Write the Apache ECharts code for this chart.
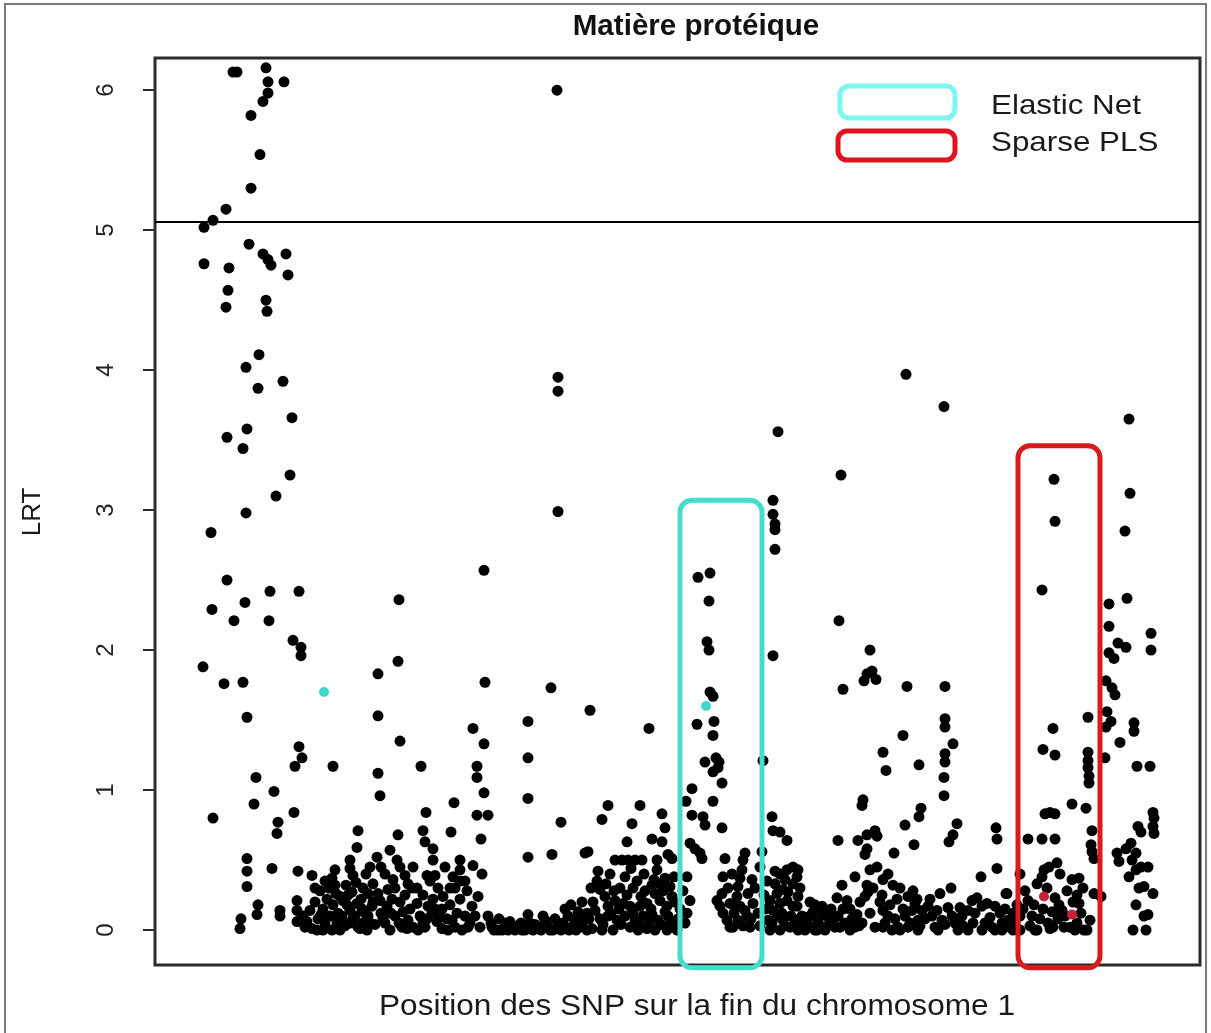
<!DOCTYPE html>
<html>
<head>
<meta charset="utf-8">
<title>Matière protéique</title>
<script src="https://cdn.jsdelivr.net/npm/echarts@6/dist/echarts.min.js"></script>
<style>
  html, body { margin: 0; padding: 0; background: #ffffff; }
  #chart { width: 1211px; height: 1033px; }
</style>
</head>
<body>
<div id="chart"></div>
<script>
// SNP rank along the end of chromosome 1 (arbitrary position units) and LRT value
const segA = [
  [78,6.13],[82,6.13],[111,6.16],[113,6.06],[129,6.06],[113,5.98],[108,5.92],[96,5.82],[105,5.54],[96,5.30],
  [71,5.15],[58,5.07],[49,5.02],[94,4.90],[108,4.83],[113,4.79],[116,4.75],[131,4.83],[49,4.76],[74,4.73],
  [133,4.68],[73,4.57],[71,4.45],[111,4.50],[112,4.42],[104,4.11],[91,4.02],[103,3.87],[128,3.92],[137,3.66],
  [92,3.58],[72,3.52],[88,3.44],[135,3.25],[121,3.10],[91,2.98],[56,2.84],[72,2.50],[115,2.42],[144,2.42],
  [57,2.29],[90,2.34],[79,2.21],[114,2.21],[138,2.07],[146,2.02],[146,1.96],[48,1.88],[69,1.76],[88,1.77],
  [92,1.52],[144,1.31],[147,1.23],[140,1.17],[101,1.09],[119,0.99],[99,0.90],[58,0.80],[139,0.84],[123,0.77],
  [122,0.69],[178,1.17]
];
const segALow = [
  [92,0.51],[92,0.42],[92,0.31],[117,0.44],[86,0.08],[85,0.01],[103,0.18],[102,0.11],[125,0.14],[125,0.10],
  [142,0.21],[142,0.14],[142,0.06],[148,0.10],[150,0.02],[143,0.42],[157,0.39],[157,0.01],[162,0.0],[168,0.15],
  [168,0.0],[175,0.10],[177,0.0],[182,0.05],[187,0.10],[188,0.21],[195,0.14],[200,0.10],[202,0.19],[205,0.01],
  [210,0.12],[208,0.05],[185,0.0],[195,0.05],[197,0.27],[208,0.30],[177,0.37],[180,0.43],[180,0.32],[195,0.50],
  [195,0.44],[198,0.39],[203,0.71],[202,0.59],
  [152,0.06],[155,0.14],[160,0.20],[163,0.08],[165,0.28],[170,0.05],[172,0.22],[178,0.18],[181,0.26],[183,0.12],
  [190,0.03],[192,0.18],[198,0.08],[203,0.02],[206,0.22],[191,0.32],[185,0.24],[170,0.35],[160,0.30],
  [166,0.11],[174,0.30],[186,0.07],[193,0.25],[201,0.34],[207,0.15]
];
const segB = [
  [223,1.12],[266,1.17],[322,1.17],[322,1.09],[225,0.96],[329,0.98],[299,0.91],[271,0.84],[322,0.82],[333,0.82],
  [243,0.68],[268,0.71],[270,0.63],[278,0.58],[278,0.50],[296,0.70],[326,0.65],[272,0.39],[280,0.39],[305,0.50],
  [305,0.43],[305,0.35],[300,0.30],[318,0.46],[223,1.53],[223,1.83],[243,1.92],[244,2.36],[245,1.35],[318,1.44],
  [329,1.33],[330,1.77],[329,2.57]
];
const segBLow = [
  [222,0.52],[235,0.57],[215,0.45],[242,0.50],[245,0.45],[250,0.39],[253,0.33],[257,0.30],[230,0.40],[238,0.36],
  [218,0.33],[213,0.26],[223,0.26],[233,0.29],[225,0.21],[232,0.17],[217,0.17],[213,0.10],[212,0.0],[235,0.0],
  [248,0.13],[253,0.07],[258,0.02],[262,0.19],[262,0.30],[273,0.17],[277,0.12],[282,0.06],[287,0.01],[288,0.24],
  [295,0.18],[287,0.15],[297,0.07],[323,0.24],[317,0.17],[310,0.10],[313,0.02],[307,0.0],[300,0.02],[293,0.0],
  [263,0.0],[268,0.05],[244,0.05],[228,0.08],[240,0.10],[220,0.04],
  [215,0.05],[218,0.20],[226,0.12],[230,0.05],[237,0.22],[240,0.30],[245,0.20],[247,0.02],[250,0.25],[255,0.15],
  [258,0.45],[265,0.10],[268,0.25],[270,0.02],[275,0.35],[278,0.22],[283,0.30],[285,0.10],[290,0.45],[292,0.08],
  [295,0.30],[302,0.12],[305,0.22],[310,0.35],[315,0.05],[320,0.10],[325,0.02],[327,0.40],[226,0.45],[211,0.40],
  [236,0.12],[252,0.01],[272,0.08],[280,0.15],[298,0.38],[312,0.28]
];
const segC = [
  [333,0.10],[337,0.02],[343,0.0],[350,0.05],[357,0.02],[367,0.0],[373,0.11],[375,0.05],[383,0.02],[390,0.07],
  [395,0.0],[402,0.02],[410,0.15],[413,0.10],[418,0.03],[425,0.02],[428,0.10],[432,0.0],[339,0.0],[347,0.0],
  [353,0.0],[360,0.0],[363,0.03],[370,0.0],[378,0.0],[386,0.0],[398,0.0],[406,0.0],[414,0.0],[421,0.0],
  [373,0.52],[397,0.54],[430,0.55],[406,0.77],[373,0.94],[373,1.49],[373,1.23],[396,1.73],[403,2.99],[402,6.00],
  [403,3.95],[403,3.85],[435,1.57],
  [336,0.05],[344,0.08],[380,0.04],[388,0.10],[392,0.03],[400,0.08],[408,0.05],[416,0.18],[420,0.08],[427,0.20],
  [434,0.08],[355,0.06],[366,0.05],[423,0.13]
];
const segD = [
  [453,0.89],[485,0.89],[447,0.79],[477,0.76],[507,0.83],[510,0.73],[433,0.56],[472,0.63],[497,0.65],[507,0.63],
  [460,0.50],[467,0.50],[473,0.50],[480,0.50],[487,0.50],[513,0.54],[517,0.51],[502,0.43],[497,0.32],[510,0.37],
  [515,0.31],[445,0.29],[450,0.24],[460,0.21],[468,0.19],[475,0.17],[485,0.17],[492,0.19],[500,0.26],[505,0.21],
  [512,0.17],[517,0.24],[432,0.12],[440,0.14],[445,0.08],[453,0.10],[462,0.07],[470,0.10],[480,0.07],[488,0.10],
  [497,0.11],[503,0.07],[513,0.10],[427,0.05],[437,0.01],[458,0.0],[475,0.02],[492,0.01],[500,0.0],[512,0.0],
  [518,0.05],[453,0.17],[465,0.30],[502,0.50],[494,1.44],[447,0.0],[483,0.0],[522,0.0],[438,0.20],[455,0.40],
  [482,0.35],[490,0.28],[525,0.15],
  [436,0.30],[442,0.35],[448,0.04],[451,0.33],[456,0.12],[459,0.28],[464,0.15],[466,0.04],[472,0.25],[478,0.12],
  [478,0.30],[484,0.04],[486,0.24],[494,0.05],[496,0.15],[499,0.36],[506,0.04],[508,0.28],[510,0.13],[515,0.04],
  [520,0.20],[523,0.08],[528,0.28],[530,0.05],
  [443,0.42],[470,0.38],[476,0.44],[489,0.40],[505,0.33],[519,0.38]
];
const segCyanWindow = [
  [555,2.55],[543,2.52],[554,2.35],[552,2.06],[554,2.00],[555,1.70],[558,1.67],[542,1.47],[559,1.49],[558,1.39],
  [550,1.20],[561,1.23],[564,1.20],[563,1.16],[558,1.13],[567,1.05],[537,1.01],[531,0.92],[558,0.92],[537,0.82],
  [548,0.81],[550,0.75],[567,0.73],[535,0.62],[540,0.58],[545,0.55],[547,0.51],[570,0.51],[532,0.38],[568,0.38],
  [535,0.21],[532,0.12],[562,0.21],[565,0.17],[568,0.12],[572,0.07],[567,0.26],[575,0.19],[578,0.02]
];
const segE = [
  [588,0.50],[587,0.43],[585,0.37],[583,0.31],[582,0.24],[585,0.17],[579,0.12],[583,0.07],[575,0.02],[592,0.10],
  [595,0.02],[598,0.19],[593,0.26],[590,0.55],[605,0.45],[607,0.56],[617,0.81],[618,0.71],[625,0.70],[632,0.64],
  [620,0.33],[625,0.40],[632,0.43],[638,0.45],[615,0.21],[618,0.14],[625,0.19],[632,0.21],[638,0.17],[613,0.07],
  [622,0.10],[628,0.07],[635,0.02],[642,0.07],[615,0.0],[625,0.0],[643,0.0],[638,0.33],[628,0.29],[622,0.26],
  [643,0.43],[642,0.38],[643,0.24],[642,0.17],[647,0.10],[640,0.05],[650,0.0],[660,0.0],[670,0.0],[680,0.02],
  [667,0.17],[672,0.10],[663,0.07],[655,0.10],[657,0.02],[677,0.05],[683,0.10],[682,0.23],[692,0.21],[695,0.15],
  [687,0.32],[700,0.38],[683,0.64],[702,0.11],[700,0.02],[695,0.0],
  [608,1.21],[623,3.56],[618,3.07],[618,2.97],[620,2.90],[620,2.86],[620,2.72],[618,1.96],[686,3.25],[684,2.21],
  [688,1.72],
  [573,0.30],[577,0.40],[580,0.17],[588,0.03],[590,0.14],[596,0.08],[600,0.30],[603,0.12],[605,0.03],[610,0.15],
  [612,0.35],[617,0.05],[620,0.42],[627,0.12],[630,0.03],[633,0.27],[636,0.10],[645,0.30],[648,0.02],
  [652,0.05],[655,0.20],[658,0.13],[662,0.0],[665,0.03],[668,0.12],[674,0.04],[676,0.15],[680,0.09],[685,0.02],
  [688,0.15],[690,0.05],[697,0.08],[704,0.03],
  [597,0.36],[609,0.25],[630,0.36],[660,0.18]
];
const segF = [
  [712,1.83],[717,1.85],[721,1.79],[709,1.78],[715,2.00],[751,3.97],[789,3.74],[752,1.74],[790,1.74],[790,1.51],
  [790,1.45],[798,1.33],[748,1.39],[790,1.26],[790,1.20],[728,1.27],[764,1.18],[731,1.14],[789,1.09],[789,0.96],
  [708,0.93],[707,0.89],[766,0.87],[764,0.81],[750,0.75],[802,0.76],[798,0.68],[794,0.63],[703,0.64],[712,0.68],
  [720,0.71],[722,0.67],[712,0.58],[710,0.54],[739,0.55],[759,0.61],[715,0.43],[712,0.32],[713,0.27],[728,0.36],
  [738,0.32],[710,0.24],[725,0.20],[728,0.14],[733,0.10],[728,0.02],[737,0.0],[753,0.24],[760,0.19],[757,0.14],
  [750,0.10],[743,0.02],[753,0.02],[763,0.07],[767,0.14],[773,0.17],[777,0.10],[780,0.02],[787,0.07],[783,0.0],
  [763,0.0],[796,0.30],[800,0.05],[807,0.10],[803,0.0],[745,0.30],[705,0.20],
  [707,0.05],[715,0.12],[718,0.30],[720,0.02],[722,0.45],[727,0.25],[730,0.05],[733,0.40],[735,0.18],[740,0.08],
  [742,0.22],[745,0.0],[748,0.15],[755,0.05],[758,0.28],[762,0.22],[765,0.03],[770,0.08],[775,0.22],[782,0.14],
  [785,0.26],[790,0.04],[793,0.16],[797,0.10],[805,0.16]
];
const segG = [
  [813,0.14],[817,0.21],[822,0.23],[827,0.17],[832,0.19],[840,0.17],[845,0.12],[847,0.05],[853,0.07],[858,0.12],
  [813,0.0],[827,0.0],[840,0.0],[826,0.38],[841,0.73],[842,0.65],[842,0.44],[852,0.26],
  [808,0.03],[818,0.05],[820,0.12],[830,0.05],[835,0.09],[837,0.02],[850,0.15],[855,0.02],[860,0.05],[862,0.18]
];
const segRedWindow = [
  [865,0.10],[852,0.05],[847,0.0],[858,0.0],[865,0.0],[875,0.03],[882,0.0],[895,0.01],[909,0.02],[915,0.02],
  [929,0.0],[922,0.05],[873,0.21],[879,0.18],[900,0.23],[904,0.18],[907,0.14],[897,0.13],[935,0.07],[865,0.40],
  [889,0.43],[894,0.45],[902,0.48],[905,0.40],[887,0.38],[882,0.33],[892,0.30],[917,0.36],[924,0.37],[922,0.25],
  [924,0.19],[939,0.26],[946,0.24],[851,0.26],[890,0.83],[895,0.84],[900,0.83],[917,0.90],[931,0.87],[873,0.65],
  [887,0.65],[900,0.65],[937,0.71],[936,0.61],[937,0.56],[939,0.51],[933,1.27],[933,1.21],[933,1.16],[934,1.10],
  [934,1.05],[933,1.52],[888,1.29],[900,1.25],[898,1.44],[887,2.43],[900,2.92],[899,3.22],[950,1.23],
  [868,0.15],[870,0.28],[877,0.10],[880,0.0],[885,0.08],[888,0.15],[893,0.05],[898,0.02],[903,0.08],[910,0.10],
  [912,0.28],[918,0.20],[920,0.0],[926,0.12],[928,0.30],[932,0.0]
];
const segH = [
  [975,3.12],[974,3.65],[970,2.85],[972,2.37],[954,2.33],[954,2.17],[963,2.05],[971,2.02],[996,2.12],[996,2.00],
  [954,1.98],[959,1.94],[951,1.78],[957,1.73],[960,1.68],[952,1.56],[956,1.49],[951,1.45],[979,1.48],[979,1.42],
  [965,1.34],[982,1.17],[995,1.17],[998,0.84],[999,0.80],[998,0.74],[999,0.69],[983,0.74],[986,0.70],[962,0.55],
  [964,0.49],[971,0.58],[976,0.62],[981,0.55],[977,0.50],[986,0.45],[981,0.43],[993,0.45],[974,0.38],[984,0.30],
  [989,0.31],[998,0.26],[981,0.18],[989,0.10],[993,0.11],[978,0.0],[991,0.0]
];

// SNPs retained by each selection method
const elasticNetSnps = [[169,1.70],[551,1.60]];
const sparsePlsSnps = [[889,0.24],[917,0.11]];

const lrtTicks = [0, 1, 2, 3, 4, 5, 6];
const threshold = 5.06;

// Windows highlighted by each method: position range and LRT range
const selectionWindows = [
  { name: 'Elastic Net', color: '#46dccd', pos: [525, 607], lrt: [-0.27, 3.07] },
  { name: 'Sparse PLS',  color: '#d81b1b', pos: [863, 945], lrt: [-0.27, 3.46] }
];

const allSnps = [].concat(segA, segALow, segB, segBLow, segC, segD, segCyanWindow, segE, segF, segG, segRedWindow, segH);

const chart = echarts.init(document.getElementById('chart'), null, { renderer: 'canvas' });
const font = 'Liberation Sans, Arial, sans-serif';

chart.setOption({
  animation: false,
  grid: { left: 155, top: 58, width: 1045, height: 907, show: true, borderColor: '#2b2b2b', borderWidth: 3 },
  xAxis: {
    type: 'value', min: 0, max: 1045,
    axisLine: { show: false }, axisTick: { show: false }, axisLabel: { show: false }, splitLine: { show: false }
  },
  yAxis: {
    type: 'value', min: -0.25, max: 6.23,
    axisLine: { show: false }, splitLine: { show: false },
    axisTick: { show: true, inside: false, length: 12, customValues: lrtTicks, lineStyle: { color: '#2b2b2b', width: 2 } },
    axisLabel: { show: true, rotate: 90, margin: 37, fontSize: 24, color: '#222', fontFamily: font, customValues: lrtTicks }
  },
  series: [
    {
      type: 'scatter', data: allSnps, symbolSize: 11, itemStyle: { color: '#000', opacity: 1 },
      markLine: {
        silent: true, symbol: 'none', label: { show: false },
        lineStyle: { color: '#000', width: 2, type: 'solid', opacity: 1 },
        data: [{ yAxis: threshold }]
      }
    },
    { type: 'scatter', data: elasticNetSnps, symbolSize: 10, itemStyle: { color: '#3fd9c9', opacity: 1 } },
    { type: 'scatter', data: sparsePlsSnps, symbolSize: 10, itemStyle: { color: '#c8203a', opacity: 1 } }
  ]
});

// Highlight windows, legend, titles and outer frame
const graphics = [];
selectionWindows.forEach(w => {
  const p0 = chart.convertToPixel({ gridIndex: 0 }, [w.pos[0], w.lrt[1]]);
  const p1 = chart.convertToPixel({ gridIndex: 0 }, [w.pos[1], w.lrt[0]]);
  graphics.push({
    type: 'rect', z: 50,
    shape: { x: p0[0], y: p0[1], width: p1[0] - p0[0], height: p1[1] - p0[1], r: 12 },
    style: { fill: 'none', stroke: w.color, lineWidth: 5 }
  });
});
graphics.push(
  { type: 'rect', z: 60, shape: { x: 840, y: 86, width: 115, height: 32, r: 9 }, style: { fill: 'none', stroke: '#7ef6f4', lineWidth: 5 } },
  { type: 'rect', z: 60, shape: { x: 838, y: 131, width: 117, height: 29, r: 9 }, style: { fill: 'none', stroke: '#e0141e', lineWidth: 5 } },
  { type: 'text', z: 60, x: 991, y: 106, scaleX: 1.12, style: { text: 'Elastic Net', font: '28px ' + font, fill: '#1a1a1a', verticalAlign: 'middle' } },
  { type: 'text', z: 60, x: 991, y: 143, scaleX: 1.12, style: { text: 'Sparse PLS', font: '28px ' + font, fill: '#1a1a1a', verticalAlign: 'middle' } },
  { type: 'text', z: 60, x: 696, y: 27, scaleX: 1.02, style: { text: 'Matière protéique', font: 'bold 29px ' + font, fill: '#111', align: 'center', verticalAlign: 'middle' } },
  { type: 'text', z: 60, x: 697, y: 1007, scaleX: 1.09, style: { text: 'Position des SNP sur la fin du chromosome 1', font: '29px ' + font, fill: '#1a1a1a', align: 'center', verticalAlign: 'middle' } },
  { type: 'text', z: 60, x: 33, y: 512, rotation: Math.PI / 2, style: { text: 'LRT', font: '26px ' + font, fill: '#1a1a1a', align: 'center', verticalAlign: 'middle' } },
  { type: 'rect', z: 1, shape: { x: 5, y: 4, width: 1201, height: 1040 }, style: { fill: 'none', stroke: '#7a7a7a', lineWidth: 2 } }
);
chart.setOption({ graphic: graphics });
</script>
</body>
</html>
